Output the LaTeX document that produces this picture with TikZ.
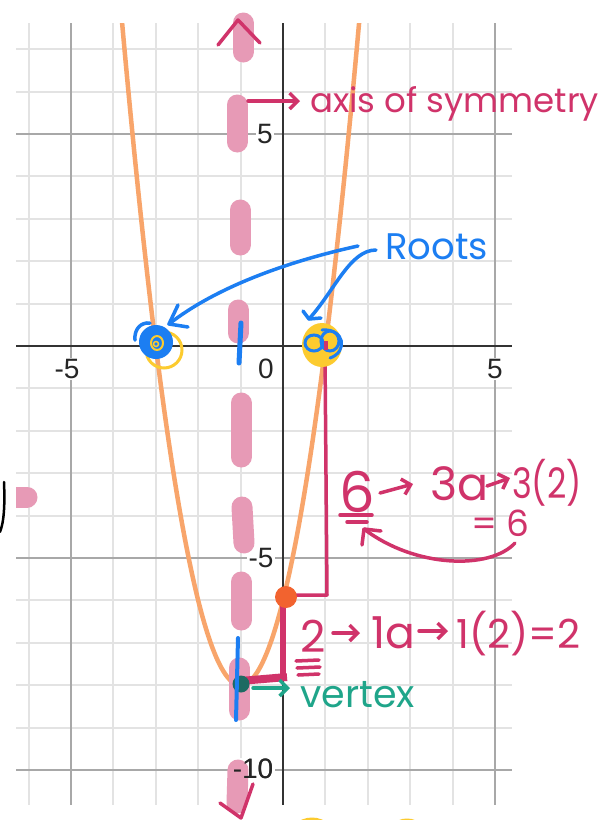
\documentclass[tikz,border=0pt]{standalone}
\usepackage{fontspec}
\setmainfont{Liberation Sans}
\newfontfamily\handfont{Poppins}
\usetikzlibrary{arrows.meta}
\definecolor{crim}{HTML}{D0336A}
\definecolor{bluepen}{HTML}{1C7EF2}
\definecolor{pinkpen}{HTML}{E79AB6}
\definecolor{parab}{HTML}{F8A56B}
\definecolor{yel}{HTML}{FCCB2F}
\definecolor{dotorange}{HTML}{F2632F}
\definecolor{greenpen}{HTML}{1FA58A}
\definecolor{vdot}{HTML}{1D6A62}
\definecolor{gridlt}{HTML}{E3E3E3}
\definecolor{gridmj}{HTML}{A8A8A8}
\definecolor{axiscol}{HTML}{333333}
\tikzset{
  gl/.style={gridlt, line width=2pt, line cap=butt},
  gm/.style={gridmj, line width=2pt, line cap=butt},
  ga/.style={axiscol, line width=2.5pt, line cap=butt},
  ticklab/.style={fill=white, inner sep=1.5pt, font=\fontsize{28}{28}\selectfont, text=black!85},
  dashseg/.style={pinkpen, line width=21pt, line cap=round},
  pen/.style={line width=3.5pt, line cap=round, line join=round},
  hand/.style={font=\handfont\fontsize{#1}{#1}\selectfont, inner sep=0pt},
  barb/.style={-{Straight Barb[length=8pt,width=16pt]}},
}
\begin{document}
\begin{tikzpicture}[x=1pt,y=-1pt]
\useasboundingbox (0,0) rectangle (607,820);
\fill[white] (0,0) rectangle (607,820);
% grid
\begin{scope}
\clip (16,23) rectangle (512,805);
\foreach \i in {-6,-4,-3,-2,-1,1,2,3,4} \draw[gl] ({283+42.4*\i},23) -- ({283+42.4*\i},805);
\foreach \j in {-9,-8,-7,-6,-4,-3,-2,-1,1,2,3,4,6,7} \draw[gl] (16,{346-42.4*\j}) -- (512,{346-42.4*\j});
\foreach \i in {-5,5} \draw[gm] ({283+42.4*\i},23) -- ({283+42.4*\i},805);
\foreach \j in {-10,-5,5} \draw[gm] (16,{346-42.4*\j}) -- (512,{346-42.4*\j});
\draw[ga] (283,23) -- (283,805);
\draw[ga] (16,346) -- (512,346);
\draw[parab, line width=4.5pt] plot[domain=-3.85:1.85, samples=120, smooth] ({283+42.4*\x},{346-42.4*(2*\x*\x+4*\x-6)});
\end{scope}
% tick labels
\node[ticklab] (ty5) at (265,134) {5};
\node[ticklab] (txm5) at (67,369) {-5};
\node[ticklab] (tx0) at (266,369) {0};
\node[ticklab] (tx5) at (495,369) {5};
\node[ticklab] (tym5) at (261,558) {-5};
\node[ticklab] (tym10) at (253,769) {-10};
% axis of symmetry dashes
\draw[dashseg] (243,23) -- (243,52);
\draw[dashseg] (237,105) -- (237,142);
\draw[dashseg] (240,210) -- (240,245);
\draw[dashseg] (238,310) -- (238,333);
\draw[dashseg] (241,403) -- (241,457);
\draw[dashseg] (242,507) -- (244,543);
\draw[dashseg] (241,582) -- (241,620);
\draw[dashseg] (239,668) -- (239,710);
\draw[dashseg] (238,770) -- (237,803);
\node[font=\fontsize{28}{28}\selectfont, text=black!85, inner sep=1.5pt] (tym10b) at (253,769) {-10};
% left margin fragment
\draw[dashseg] (5,497) -- (27,497);
\fill[white] (0,480) rectangle (15.5,515);
\draw[black, line width=2.5pt, line cap=round] (4,482) .. controls (5,505) and (4,522) .. (0,532);
% chevrons
\draw[crim, pen] (218,45) -- (238,20) -- (260,43);
\draw[crim, pen] (220,803) -- (241,818) -- (253,784);
% axis label
\coordinate (aosA) at (248,101);
\coordinate (aosB) at (300,101);
\draw[crim, pen, barb] (aosA) -- (aosB);
\node[hand=34, text=crim, anchor=base west] (aos) at (310,112) {axis of symmetry};
% crimson construction lines
\draw[crim, line width=3.5pt, line join=round] (325,355) -- (327,595) -- (286,595);
\draw[crim, line width=6pt] (283,600) -- (283,675);
\draw[crim, line width=8pt] (287,677) -- (240,681);
% dots
\fill[dotorange] (286,597) circle (11pt);
\fill[vdot] (241,684) circle (8.5pt);
\draw[bluepen, line width=4pt, line cap=round] (238,638) -- (236,720);
\draw[bluepen, line width=5pt, line cap=round] (241,323) -- (239,363);
% left root
\draw[yel, line width=3pt] (164,350) circle (18pt);
\fill[bluepen] (156,342) circle (17pt);
\draw[yel, line width=2pt] (157,343) ellipse (6pt and 7pt);
\draw[yel, line width=1.5pt] (156,344) circle (2.5pt);
\draw[bluepen, pen] (135,340) .. controls (134,329) and (141,322) .. (150,323);
% right root
\fill[yel] (322,345) ellipse (20pt and 22pt);
\draw[bluepen, line width=3pt] (314,343) ellipse (9pt and 8pt);
\draw[bluepen, line width=3pt] (330,341) ellipse (9pt and 10pt);
\draw[bluepen, line width=3pt, line cap=round] (322,330) .. controls (345,328) and (348,352) .. (330,358);
\fill[crim] (324,341) rectangle (328,350);
% roots label
\node[hand=37, text=bluepen, anchor=base west] (roots) at (385,259) {Roots};
\coordinate (r1) at (358,246);
\coordinate (r1tip) at (169,324);
\draw[bluepen, pen] (r1) .. controls (285,262) and (215,288) .. (r1tip);
\draw[bluepen, pen] (178,305) -- (r1tip) -- (188,327);
\coordinate (r2) at (376,250);
\coordinate (r2tip) at (309,319);
\draw[bluepen, pen] (r2) .. controls (350,250) and (335,290) .. (r2tip);
\draw[bluepen, pen] (303,311) -- (r2tip) -- (321,318);
% vertex label
\coordinate (vA) at (253,688);
\coordinate (vB) at (290,688);
\draw[greenpen, pen, barb] (vA) -- (vB);
\node[hand=38, text=greenpen, anchor=base west] (vtx) at (300,707) {vertex};
% 6 -> 3a -> 3(2) = 6
\node[hand=56, text=crim, anchor=base] (six) at (357,512) {6};
\draw[crim, pen] (340,515) -- (372,515);
\draw[crim, pen] (347,522) -- (367,522);
\draw[crim, pen, barb] (380,493) -- (413,484);
\node[hand=46, text=crim, anchor=base west] (threea) at (430,500) {3a};
\draw[crim, pen, barb] (487,486) -- (510,478);
\node[hand=42, text=crim, anchor=base west] (threetwo) at (512,498) {\scalebox{0.8}[1]{3(2)}};
\node[hand=36, text=crim, anchor=base west] (eqsix) at (471,536) {= 6};
\coordinate (cA) at (515,543);
\coordinate (cB) at (364,529);
\draw[crim, pen] (cA) .. controls (490,570) and (415,568) .. (cB);
\draw[crim, pen] (362,545) -- (cB) -- (381,531);
% 2 -> 1a -> 1(2) = 2
\node[hand=44, text=crim, anchor=base west] (two) at (300,652) {2};
\draw[crim, pen] (296,661) -- (319,660);
\draw[crim, pen] (297,668) -- (320,667);
\draw[crim, pen] (298,675) -- (319,674);
\draw[crim, pen, barb] (333,633) -- (360,633);
\node[hand=44, text=crim, anchor=base west] (onea) at (371,648) {1a};
\draw[crim, pen, barb] (419,631) -- (448,631);
\node[hand=40, text=crim, anchor=base west] (onetwo) at (456,648) {1(2)=2};
% bottom yellow fragments
\draw[yel, line width=3pt] (312,843) circle (24pt);
\draw[yel, line width=3pt] (407,840) circle (20pt);
\end{tikzpicture}
\end{document}
